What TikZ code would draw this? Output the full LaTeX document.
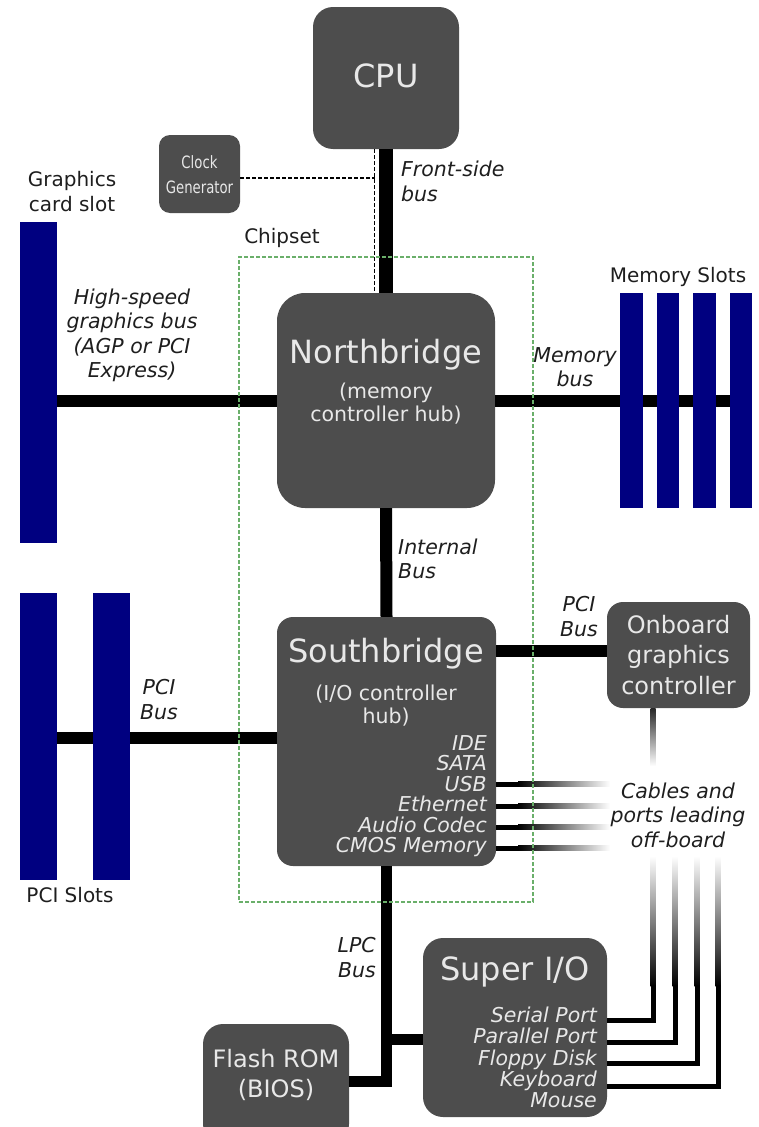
\documentclass[tikz,border=0pt]{standalone}
\usepackage{fontspec}
\setmainfont{DejaVu Sans}
\usepackage{graphicx}
\definecolor{boxgray}{HTML}{4D4D4D}
\definecolor{boxtext}{HTML}{E8E8E8}
\definecolor{slotblue}{HTML}{000080}
\definecolor{chipgreen}{HTML}{6AAF6A}
\definecolor{labelgray}{HTML}{1E1E1E}
\begin{document}
\begin{tikzpicture}[x=1pt,y=-1pt,
  box/.style={fill=boxgray, draw=none, inner sep=0pt},
  slot/.style={fill=slotblue, draw=none, inner sep=0pt},
  bus/.style={line width=12pt, black},
  cable/.style={line width=5pt, black, line join=miter},
  btxt/.style={text=boxtext, inner sep=0pt, align=center},
  bigtxt/.style={btxt, font=\fontsize{32}{38}\selectfont},
  midtxt/.style={btxt, font=\fontsize{24}{30.5}\selectfont},
  subtxt/.style={btxt, font=\fontsize{20.5}{23}\selectfont},
  listtxt/.style={btxt, align=right, font=\fontsize{20.5}{20.5}\selectfont\itshape},
  lbl/.style={text=labelgray, inner sep=0pt, align=center, font=\fontsize{20}{24.5}\selectfont},
  ilbl/.style={text=labelgray, inner sep=0pt, align=center, font=\fontsize{20.5}{24.5}\selectfont\itshape},
  clkline/.style={dash pattern=on 4pt off 2pt, line width=1.3pt, black},
]
\useasboundingbox (0,0) rectangle (758,1127);

% ---------- slots ----------
\node[slot, minimum width=37pt, minimum height=321pt] (gslot) at (38.5,382.5) {};
\node[slot, minimum width=37pt, minimum height=287pt] (pci1) at (38.5,736.5) {};
\node[slot, minimum width=37pt, minimum height=287pt] (pci2) at (111.5,736.5) {};

% ---------- boxes ----------
\node[box, rounded corners=20pt, minimum width=146pt, minimum height=142pt] (cpu) at (386,78) {};
\node[box, rounded corners=11pt, minimum width=81pt, minimum height=78pt] (clk) at (199.5,174) {};
\node[box, rounded corners=28pt, minimum width=218pt, minimum height=215pt] (nb) at (386,400.5) {};
\node[box, rounded corners=16pt, minimum width=219pt, minimum height=249pt] (sb) at (386.5,741.5) {};
\node[box, rounded corners=16pt, minimum width=143pt, minimum height=106pt] (ogc) at (678.5,655) {};
\node[box, rounded corners=20pt, minimum width=184pt, minimum height=179pt] (sio) at (515,1027.5) {};
\node[box, rounded corners=20pt, minimum width=146pt, minimum height=120pt] (flash) at (276,1084) {};

% ---------- helper coordinates ----------
\coordinate (agpy) at (0,401);
\coordinate (pciy) at (0,738);
\coordinate (ogcy) at (0,651);
\coordinate (lpcy) at (0,1081);
\coordinate (sioy) at (0,1039);
\coordinate (clky) at (0,178);
\coordinate (dashx) at (374.5,0);

% ---------- buses ----------
\draw[bus, line width=14pt] (cpu.south) -- (nb.north);
\draw[clkline] (clk.east |- clky) -- (dashx |- clky);
\draw[clkline] (dashx |- cpu.south) -- (dashx |- nb.north);
\draw[bus] (gslot.east |- agpy) -- (nb.west |- agpy);
\draw[bus] (nb.east |- agpy) -- (741,401) coordinate (memend);
\draw[bus] (nb.south) -- (sb.north);
\draw[bus] (pci1.east |- pciy) -- (sb.west |- pciy);
\draw[bus] (sb.east |- ogcy) -- (ogc.west |- ogcy);
\draw[bus, line width=11pt, line join=miter] (sb.south) |- (flash.east |- lpcy);
\draw[bus, line width=11pt] (sb.south |- sioy) -- (sio.west |- sioy);

% re-draw PCI slot 2 on top of the bus
\node[slot, minimum width=37pt, minimum height=287pt] at (pci2) {};

% ---------- memory slots ----------
\node[slot, minimum width=23pt, minimum height=215pt] (mem1) at (631.5,400.5) {};
\node[slot, minimum width=22pt, minimum height=215pt] (mem2) at (668,400.5) {};
\node[slot, minimum width=23pt, minimum height=215pt] (mem3) at (704.5,400.5) {};
\node[slot, minimum width=22pt, minimum height=215pt] (mem4) at (741,400.5) {};

% ---------- off-board cables ----------
\foreach \y in {784,806,827,848}{
  \fill[black] (sb.east |- 0,\y) ++(0,-2.5) rectangle (518,\y+2.5);
  \shade[left color=black, right color=white] (518,\y-2.5) rectangle (610,\y+2.5);
}
\shade[top color=black!85, bottom color=white] (650.5,708) rectangle (655.5,766);
\foreach \x/\y in {653/1020,675/1042,697/1063,718/1086}{
  \shade[top color=white, bottom color=black] (\x-2.5,856) rectangle (\x+2.5,986);
  \draw[cable] (\x,985) -- (\x,\y) -- (sio.east |- 0,\y);
}

% ---------- chipset outline ----------
\node[draw=chipgreen, dash pattern=on 4pt off 2pt, line width=1.2pt, inner sep=0pt,
      minimum width=294pt, minimum height=645pt] (chipset) at (386,579.5) {};

% ---------- box texts ----------
\node[bigtxt] (tcpu) at (386,76) {CPU};
\node[btxt, font=\fontsize{17}{25}\selectfont] (tclk) at (199.5,175)
  {\scalebox{0.78}[1]{Clock}\\\scalebox{0.78}[1]{Generator}};
\node[bigtxt] (tnb) at (386,355) {Northbridge};
\node[subtxt] (tnb2) at (386,404) {(memory\\controller hub)};
\node[bigtxt] (tsb) at (386,654) {Southbridge};
\node[subtxt] (tsb2) at (386,706) {(I/O controller\\hub)};
\node[listtxt, anchor=east] (tsbl) at (487,796)
  {IDE\\SATA\\USB\\Ethernet\\Audio Codec\\CMOS Memory};
\node[midtxt] (togc) at (678.5,655) {Onboard\\graphics\\controller};
\node[bigtxt] (tsio) at (515,972) {Super I/O};
\node[listtxt, anchor=east, font=\fontsize{20.5}{21.2}\selectfont\itshape] (tsiol) at (597,1057.5)
  {Serial Port\\Parallel Port\\Floppy Disk\\Keyboard\\Mouse};
\node[midtxt] (tflash) at (276,1075) {Flash ROM\\(BIOS)};

% ---------- outside labels ----------
\node[lbl] (lgs) at (72,191.5) {Graphics\\card slot};
\node[lbl] (lchip) at (282,238) {Chipset};
\node[ilbl, align=left, anchor=west] (lfsb) at (401,181.5) {Front-side\\bus};
\node[ilbl] (lagp) at (132,335.5) {High-speed\\graphics bus\\(AGP or PCI\\Express)};
\node[lbl] (lmems) at (678,277) {Memory Slots};
\node[ilbl] (lmemb) at (575,367) {Memory\\bus};
\node[ilbl, align=left, anchor=west] (lint) at (398,559) {Internal\\Bus};
\node[ilbl] (lpcir) at (579,616.5) {PCI\\Bus};
\node[ilbl] (lpcil) at (159,699.5) {PCI\\Bus};
\node[ilbl] (lcab) at (678,815) {Cables and\\ports leading\\off-board};
\node[ilbl, align=right, anchor=east] (llpc) at (376,957.5) {LPC\\Bus};
\node[lbl] (lpcis) at (70,895) {PCI Slots};
\end{tikzpicture}
\end{document}
